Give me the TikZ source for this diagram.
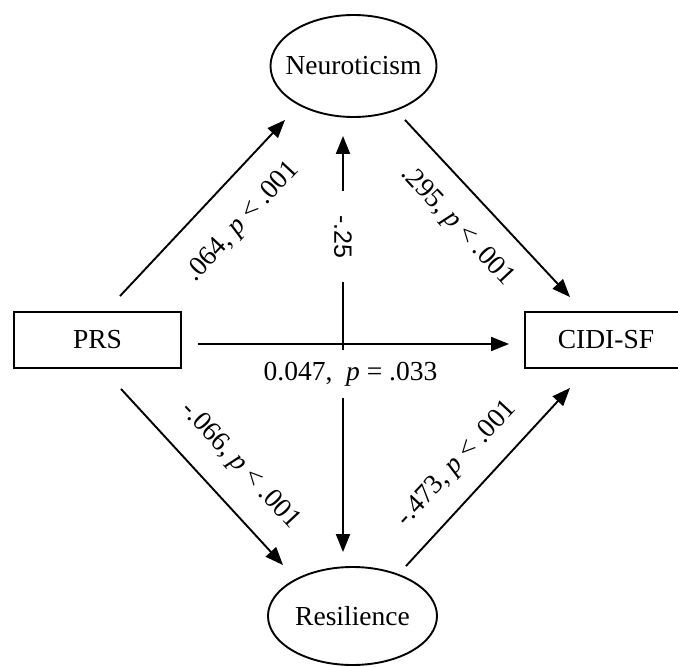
\documentclass[tikz,border=0pt]{standalone}
\usepackage{fontspec}
\setmainfont{Liberation Serif}
\newfontfamily\coefsans{Liberation Sans}
\usetikzlibrary{shapes.geometric,arrows.meta,calc}
\tikzset{
  txt/.style={font=\fontsize{27.5}{31}\selectfont},
  latent/.style={ellipse, draw, line width=1.9pt, inner sep=0pt},
  observed/.style={rectangle, draw, line width=1.9pt, inner sep=0pt, txt,
    minimum height=56pt},
  effect/.style={line width=1.9pt, -{Triangle[length=18pt,width=14pt]}},
  coef/.style={txt, inner sep=0pt},
}
\begin{document}
\begin{tikzpicture}[x=1pt,y=-1pt]
\clip (0,0) rectangle (678,667);

% variables
\node[latent, minimum width=166pt, minimum height=102pt,
      label={[txt]center:Neuroticism}] (neu) at (353.5,66) {};
\node[latent, minimum width=169pt, minimum height=98pt,
      label={[txt]center:Resilience}] (res) at (352.5,616) {};
\node[observed, minimum width=167pt] (prs) at (97.5,340) {PRS};
\node[observed, minimum width=162pt] (cidi) at (606,340) {CIDI-SF};

% paths
\draw[effect] ($(prs.north)+(22.5,-15)$) -- ($(neu.south)+(-68.5,2)$);
\draw[effect] ($(neu.south)+(51.5,2)$) -- ($(cidi.north)+(-36,-14)$);
\draw[effect, {Triangle[length=18pt,width=14pt]}-{Triangle[length=18pt,width=14pt]}]
  ($(neu.south)+(-10.5,18)$) -- ($(res.north)+(-9.5,-14)$)
  node[pos=0.242, rotate=-90, fill=white, inner xsep=24pt, inner ysep=2pt,
       font=\coefsans\fontsize{25}{28}\selectfont] (c6) {-.25};
\draw[effect] ($(prs.south)+(23.5,20)$) -- ($(res.north)+(-69.5,-1)$);
\draw[effect] ($(res.north)+(53.5,0)$) -- ($(cidi.south)+(-36,19)$);

% direct effect with its white-backed label
\node[coef, fill=white, inner xsep=3pt, minimum height=48pt] (c5)
  at (350.5,374) {0.047,\ \ \textit{p} = .033};
\draw[effect] ($(prs.east)+(16,4)$) -- ($(cidi.west)+(-15,4)$);

% coefficients
\node[coef, rotate=47]  (c1) at (243,222) {.064, \textit{p} < .001};
\node[coef, rotate=-47] (c2) at (457,226) {.295, \textit{p} < .001};
\node[coef, rotate=-47] (c3) at (240,466) {-.066, \textit{p} < .001};
\node[coef, rotate=47]  (c4) at (457,464) {-.473, \textit{p} < .001};
\end{tikzpicture}
\end{document}
